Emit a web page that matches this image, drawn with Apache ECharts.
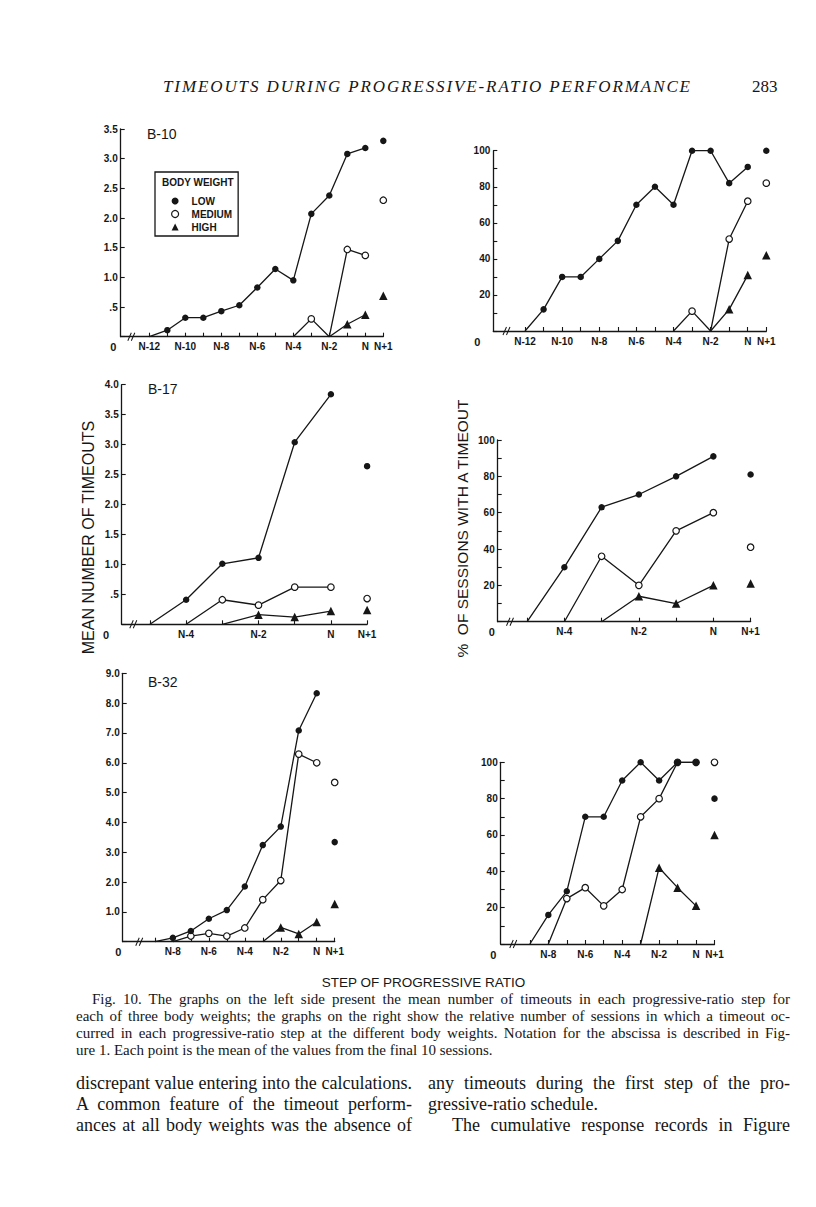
<!DOCTYPE html>
<html>
<head>
<meta charset="utf-8">
<script src="https://cdn.jsdelivr.net/npm/echarts@6/dist/echarts.min.js"></script>
<style>
html,body{margin:0;padding:0;background:#fff;}
#page{position:relative;width:816px;height:1207px;overflow:hidden;background:#fff;}
#chart{position:absolute;left:0;top:0;width:816px;height:1207px;}
.t{position:absolute;white-space:nowrap;color:#161616;font-family:"Liberation Serif","DejaVu Serif",serif;}
.cap{font-size:15px;line-height:17px;}
.body{font-size:18px;line-height:21px;}
</style>
</head>
<body>
<div id="page">
<div id="chart"></div>
<div class="t" id="hdr" data-w="527" data-mode="letters" style="left:163px;top:77px;font-size:17px;line-height:20px;font-style:italic;">TIMEOUTS DURING PROGRESSIVE-RATIO PERFORMANCE</div>
<div class="t" style="left:752px;top:77px;font-size:17px;line-height:20px;">283</div>

<div class="t cap" data-w="698" style="left:92px;top:991px;">Fig. 10. The graphs on the left side present the mean number of timeouts in each progressive-ratio step for</div>
<div class="t cap" data-w="714" style="left:76px;top:1008px;">each of three body weights; the graphs on the right show the relative number of sessions in which a timeout oc-</div>
<div class="t cap" data-w="714" style="left:76px;top:1025px;">curred in each progressive-ratio step at the different body weights. Notation for the abscissa is described in Fig-</div>
<div class="t cap" style="left:76px;top:1042px;">ure 1. Each point is the mean of the values from the final 10 sessions.</div>

<div class="t body" data-w="336" style="left:76px;top:1073px;">discrepant value entering into the calculations.</div>
<div class="t body" data-w="336" style="left:76px;top:1094px;">A common feature of the timeout perform-</div>
<div class="t body" data-w="336" style="left:76px;top:1115px;">ances at all body weights was the absence of</div>
<div class="t body" data-w="362" style="left:428px;top:1073px;">any timeouts during the first step of the pro-</div>
<div class="t body" style="left:428px;top:1094px;">gressive-ratio schedule.</div>
<div class="t body" data-w="338" style="left:452px;top:1115px;">The cumulative response records in Figure</div>
</div>
<script>
// ---------------- DATA ----------------
// Steps of the progressive ratio, counted from the last step N (N = 0, N-1 = -1, ...).
// The isolated point at N+1 is given separately in the *Next arrays [LOW, MEDIUM, HIGH].
const weights = ['LOW', 'MEDIUM', 'HIGH'];

// B-10
const b10Steps = [-12, -11, -10, -9, -8, -7, -6, -5, -4, -3, -2, -1, 0];
const b10MeanLow    = [0, 0.11, 0.32, 0.32, 0.43, 0.53, 0.83, 1.14, 0.95, 2.07, 2.38, 3.08, 3.18];
const b10MeanMedium = [null, null, null, null, null, null, null, null, 0, 0.30, 0, 1.47, 1.37];
const b10MeanHigh   = [null, null, null, null, null, null, null, null, null, null, 0, 0.21, 0.37];
const b10MeanNext   = [3.30, 2.30, 0.69];
const b10PctLow     = [0, 12, 30, 30, 40, 50, 70, 80, 70, 100, 100, 82, 91];
const b10PctMedium  = [null, null, null, null, null, null, null, null, 0, 11, 0, 51, 72];
const b10PctHigh    = [null, null, null, null, null, null, null, null, null, null, 0, 12, 31];
const b10PctNext    = [100, 82, 42];

// B-17
const b17Steps = [-5, -4, -3, -2, -1, 0];
const b17MeanLow    = [0, 0.41, 1.01, 1.11, 3.04, 3.84];
const b17MeanMedium = [null, 0, 0.41, 0.32, 0.62, 0.62];
const b17MeanHigh   = [null, null, 0, 0.16, 0.12, 0.22];
const b17MeanNext   = [2.64, 0.43, 0.24];
const b17PctLow     = [0, 30, 63, 70, 80, 91];
const b17PctMedium  = [null, 0, 36, 20, 50, 60];
const b17PctHigh    = [null, null, 0, 14, 10, 20];
const b17PctNext    = [81, 41, 21];

// B-32
const b32Steps = [-9, -8, -7, -6, -5, -4, -3, -2, -1, 0];
const b32MeanLow    = [0, 0.13, 0.36, 0.77, 1.06, 1.85, 3.24, 3.86, 7.08, 8.33];
const b32MeanMedium = [null, 0, 0.19, 0.28, 0.19, 0.46, 1.41, 2.05, 6.29, 6.00];
const b32MeanHigh   = [null, null, null, null, null, null, 0, 0.48, 0.26, 0.66];
const b32MeanNext   = [3.34, 5.34, 1.26];
const b32PctLow     = [0, 16, 29, 70, 70, 90, 100, 90, 100, 100];
const b32PctMedium  = [null, 0, 25, 31, 21, 30, 70, 80, 100, 100];
const b32PctHigh    = [null, null, null, null, null, null, 0, 42, 31, 21];
const b32PctNext    = [80, 100, 60];

// tick labels on the abscissa (step values that carry a label)
const b10LabelSteps = [-12, -10, -8, -6, -4, -2, 0, 1];
const b17LabelSteps = [-4, -2, 0, 1];
const b32LabelSteps = [-8, -6, -4, -2, 0, 1];

// ---------------- LAYOUT / STYLE ----------------
const INK = '#161616';
const SANS = '"Liberation Sans", Arial, sans-serif';

const meanFmt = v => v === 0 ? '' : (v === 0.5 ? '.5' : v.toFixed(1));
const pctFmt = v => (v === 0 || v % 20 !== 0) ? '' : String(v);

const panels = [
  {grid:{left:120.7, top:129,   width:262.6, height:207.7}, xMin:-13.59, firstTick:-12, breakAt:-13,   zeroOff:7.4,
   yMax:3.5, yInt:0.5, yFmt:meanFmt, steps:b10Steps, vals:[b10MeanLow, b10MeanMedium, b10MeanHigh], next:b10MeanNext, labels:b10LabelSteps},
  {grid:{left:493.3, top:150.7, width:273,   height:180.3}, xMin:-13.71, firstTick:-12, breakAt:-13,   zeroOff:16,
   yMax:100, yInt:10, yFmt:pctFmt, steps:b10Steps, vals:[b10PctLow, b10PctMedium, b10PctHigh], next:b10PctNext, labels:b10LabelSteps},
  {grid:{left:121.7, top:384.7, width:245.4, height:239.6}, xMin:-5.78, firstTick:-5, breakAt:-5.46,   zeroOff:15.7,
   yMax:4, yInt:0.5, yFmt:meanFmt, steps:b17Steps, vals:[b17MeanLow, b17MeanMedium, b17MeanHigh], next:b17MeanNext, labels:b17LabelSteps},
  {grid:{left:497.7, top:440,   width:252.9, height:181.7}, xMin:-5.79, firstTick:-5, breakAt:-5.46,   zeroOff:6,
   yMax:100, yInt:10, yFmt:pctFmt, steps:b17Steps, vals:[b17PctLow, b17PctMedium, b17PctHigh], next:b17PctNext, labels:b17LabelSteps},
  {grid:{left:122.7, top:673.3, width:212,   height:268.4}, xMin:-10.79, firstTick:-9, breakAt:-9.87,  zeroOff:4.4,
   yMax:9, yInt:1, yFmt:meanFmt, steps:b32Steps, vals:[b32MeanLow, b32MeanMedium, b32MeanHigh], next:b32MeanNext, labels:b32LabelSteps},
  {grid:{left:500.7, top:762.3, width:213.8, height:181.7}, xMin:-10.58, firstTick:-9, breakAt:-9.9,   zeroOff:7.4,
   yMax:100, yInt:10, yFmt:pctFmt, steps:b32Steps, vals:[b32PctLow, b32PctMedium, b32PctHigh], next:b32PctNext, labels:b32LabelSteps}
];

const STY = {
  LOW:    {symbol:'circle',   symbolSize:6.5, itemStyle:{color:INK, opacity:1}},
  MEDIUM: {symbol:'circle',   symbolSize:6.5, itemStyle:{color:'#fff', borderColor:INK, borderWidth:1.2, opacity:1}},
  HIGH:   {symbol:'triangle', symbolSize:8.5, itemStyle:{color:INK, opacity:1}}
};

function lineData(steps, vals) {
  const out = [];
  steps.forEach((s, i) => {
    const v = vals[i];
    if (v == null) return;
    out.push(v === 0 ? {value:[s, v], symbol:'none'} : {value:[s, v]});
  });
  return out;
}

const grids = [], xAxes = [], yAxes = [], series = [];
panels.forEach((p, i) => {
  grids.push(Object.assign({containLabel:false}, p.grid));
  const ticks = [];
  for (let s = p.firstTick; s <= 1; s++) ticks.push(s);
  xAxes.push({
    type:'value', gridIndex:i, min:p.xMin, max:1,
    axisLine:{show:true, onZero:false, lineStyle:{color:INK, width:1.3}},
    axisTick:{show:true, inside:true, length:4, customValues:ticks, lineStyle:{color:INK, width:1.1}},
    axisLabel:{show:true, customValues:[p.xMin].concat(p.labels), margin:5,
      fontSize:10, fontWeight:'bold', fontFamily:SANS, color:INK,
      formatter: v => v === p.xMin ? '{z|0}' : (v === 0 ? 'N' : (v === 1 ? 'N+1' : 'N' + v)),
      rich:{z:{fontSize:11, fontWeight:'bold', fontFamily:SANS, color:INK, padding:[0, p.zeroOff * 2, 0, 0]}}},
    splitLine:{show:false}
  });
  yAxes.push({
    type:'value', gridIndex:i, min:0, max:p.yMax, interval:p.yInt,
    axisLine:{show:true, onZero:false, lineStyle:{color:INK, width:1.3}},
    axisTick:{show:true, inside:true, length:4, lineStyle:{color:INK, width:1.1}},
    axisLabel:{show:true, margin:3, fontSize:10, fontWeight:'bold', fontFamily:SANS, color:INK, formatter:p.yFmt},
    splitLine:{show:false}
  });
  // axis break mark "//"
  series.push({
    type:'scatter', xAxisIndex:i, yAxisIndex:i, data:[[p.breakAt, 0]], silent:true, clip:false, z:6,
    symbol:'path://M0,10L4,0M4,10L8,0', symbolSize:[7, 8],
    itemStyle:{color:'none', borderColor:INK, borderWidth:1.1, opacity:1}
  });
  // HIGH first, LOW last (on top)
  [2, 1, 0].forEach(k => {
    const name = weights[k];
    series.push(Object.assign({
      type:'line', name, xAxisIndex:i, yAxisIndex:i, clip:false, z:3 + (2 - k) * 0.1,
      data: lineData(p.steps, p.vals[k]),
      lineStyle:{color:INK, width:1.3}, emphasis:{disabled:true}, showAllSymbol:true
    }, JSON.parse(JSON.stringify(STY[name]))));
    series.push(Object.assign({
      type:'scatter', name, xAxisIndex:i, yAxisIndex:i, clip:false, z:3,
      data:[[1, p.next[k]]], emphasis:{disabled:true}
    }, JSON.parse(JSON.stringify(STY[name]))));
  });
});

const chart = echarts.init(document.getElementById('chart'), null, {renderer:'svg', width:816, height:1207});
chart.setOption({
  backgroundColor:'#fff',
  animation:false,
  grid:grids, xAxis:xAxes, yAxis:yAxes, series:series,
  legend:{
    left:155, top:172, orient:'vertical', selectedMode:false,
    padding:[24, 6, 4, 16], itemGap:3, itemWidth:7, itemHeight:7,
    borderColor:INK, borderWidth:1.3, backgroundColor:'#fff',
    textStyle:{fontFamily:SANS, fontSize:10, fontWeight:'bold', color:INK, padding:[0, 0, 0, 8]},
    data:[
      {name:'LOW', icon:'circle', itemStyle:{color:INK}},
      {name:'MEDIUM', icon:'circle', itemStyle:{color:'#fff', borderColor:INK, borderWidth:1.2}},
      {name:'HIGH', icon:'triangle', itemStyle:{color:INK}}
    ]
  },
  graphic:[
    {type:'text', x:162, y:182, z:100, style:{text:'BODY WEIGHT', fontFamily:SANS, fontSize:10, fontWeight:'bold', fill:INK, align:'left', verticalAlign:'middle'}},
    {type:'text', x:147, y:133.7, style:{text:'B-10', fontFamily:SANS, fontSize:14, fill:INK, align:'left', verticalAlign:'middle'}},
    {type:'text', x:148, y:389, style:{text:'B-17', fontFamily:SANS, fontSize:14, fill:INK, align:'left', verticalAlign:'middle'}},
    {type:'text', x:148, y:681.5, style:{text:'B-32', fontFamily:SANS, fontSize:14, fill:INK, align:'left', verticalAlign:'middle'}},
    {type:'text', x:88.3, y:537.5, rotation:Math.PI / 2, style:{text:'MEAN NUMBER OF TIMEOUTS', fontFamily:SANS, fontSize:16, fill:INK, align:'center', verticalAlign:'middle'}},
    {type:'text', x:462, y:528.5, rotation:Math.PI / 2, style:{text:'%  OF SESSIONS WITH A TIMEOUT', fontFamily:SANS, fontSize:15.5, fill:INK, align:'center', verticalAlign:'middle'}},
    {type:'text', x:423.5, y:982, style:{text:'STEP OF PROGRESSIVE RATIO', fontFamily:SANS, fontSize:13.5, fill:INK, align:'center', verticalAlign:'middle'}}
  ]
});

// fit the typeset lines of the page to their measured widths
document.querySelectorAll('.t[data-w]').forEach(el => {
  const target = parseFloat(el.getAttribute('data-w'));
  const w = el.getBoundingClientRect().width;
  const txt = el.textContent;
  const spaces = (txt.match(/ /g) || []).length;
  if (el.getAttribute('data-mode') === 'letters' || w > target || spaces === 0) {
    el.style.letterSpacing = ((target - w) / Math.max(1, txt.length - 1)) + 'px';
  } else {
    el.style.wordSpacing = ((target - w) / spaces) + 'px';
  }
});
</script>
</body>
</html>
